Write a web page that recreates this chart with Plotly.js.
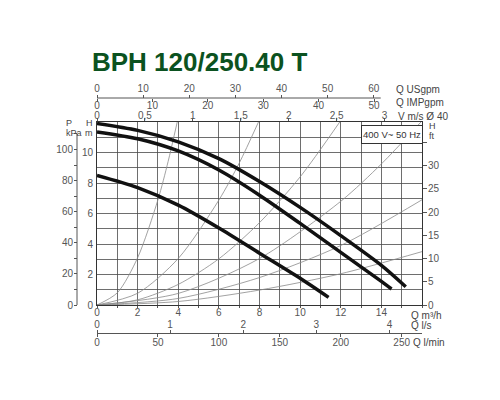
<!DOCTYPE html>
<html>
<head>
<meta charset="utf-8">
<script src="https://cdn.plot.ly/plotly-3.0.1.min.js"></script>
<style>body{margin:0;background:#fff}#chart{width:500px;height:400px}</style>
</head>
<body>
<div id="chart"></div>
<script>
// pump curves (Q m3/h, H m)
let q_speed3 = [0, 2, 4, 6, 8, 10, 12, 14, 15.2]
let h_speed3 = [11.9, 11.45, 10.7, 9.6, 8.1, 6.4, 4.55, 2.6, 1.2]
let q_speed2 = [0, 2, 4, 6, 8, 10, 12, 14, 14.5]
let h_speed2 = [11.35, 10.9, 10.1, 8.85, 7.2, 5.35, 3.45, 1.55, 1.05]
let q_speed1 = [0, 2, 4, 6, 8, 10, 11.4]
let h_speed1 = [8.5, 7.7, 6.55, 5.05, 3.4, 1.75, 0.5]

// thin system curves
let sys_a_q = [0, 1, 2, 3, 3.5, 3.95]
let sys_a_h = [0, 0.8, 3.1, 6.9, 9.4, 12]
let sys_b_q = [0, 2, 4, 6, 7, 7.95]
let sys_b_h = [0, 0.77, 3.05, 6.88, 9.3, 12]
let sys_c_q = [0, 2, 4, 6, 8, 10, 11.95]
let sys_c_h = [0, 0.34, 1.35, 3.03, 5.4, 8.4, 12]
let sys_d_q = [0, 4, 8, 12, 14, 15.95]
let sys_d_h = [0, 0.76, 3.05, 6.8, 9.25, 12]
let sys_e_q = [0, 4, 8, 12, 16]
let sys_e_h = [0, 0.43, 1.8, 3.9, 6.9]
let sys_f_q = [0, 4, 8, 12, 16]
let sys_f_h = [0, 0.23, 0.98, 2.05, 3.5]

// tick labels
let q_m3h_ticks = [0, 2, 4, 6, 8, 10, 12, 14]
let h_m_ticks = [0, 2, 4, 6, 8, 10]
let p_kpa_ticks = [0, 20, 40, 60, 80, 100]
let h_ft_ticks = [0, 5, 10, 15, 20, 25, 30]
let usgpm_ticks = [0, 10, 20, 30, 40, 50, 60]
let impgpm_ticks = [0, 10, 20, 30, 40, 50]
let v_ticks = [0, 0.5, 1, 1.5, 2, 2.5, 3]
let v_labels = ['0', '0,5', '1', '1,5', '2', '2,5', '3']
let ls_ticks = [0, 1, 2, 3, 4]
let lmin_ticks = [0, 50, 100, 150, 200, 250]

// unit factors against m3/h and m
let Q_MAX = 16, H_MAX = 12
let USGPM = 0.227125, IMPGPM = 0.272766, LS = 3.6, LMIN = 0.06, VMS = 4.72
let KPA = 9.80665, FT = 0.3048

// page layout helpers (paper spans x 60..440, y 92..350)
let px = (x) => (x - 60) / 380
let py = (y) => (350 - y) / 258

let fnt = 'Liberation Sans, Arial, sans-serif'
let tickFont = {family: fnt, size: 10, color: '#555'}

range = (a, b, s) => {
    var out = []
    for (let v = a; v <= b + 1e-9; v = v + s) out.push(v)
    return out
}

sysTrace = (q, h) => ({
    x: q, y: h, type: 'scatter', mode: 'lines',
    line: {color: '#8a8a8a', width: 0.8, shape: 'spline', smoothing: 0.8},
    hoverinfo: 'skip'
})
pumpTrace = (q, h) => ({
    x: q, y: h, type: 'scatter', mode: 'lines',
    line: {color: '#111', width: 3.5, shape: 'spline', smoothing: 0.8},
    hoverinfo: 'skip'
})
// empty trace so that an extra scale axis gets drawn
axisHolder = (xa, ya) => ({
    x: [null], y: [null], xaxis: xa, yaxis: ya, type: 'scatter', mode: 'lines',
    hoverinfo: 'skip'
})

var data = [
    sysTrace(sys_a_q, sys_a_h),
    sysTrace(sys_b_q, sys_b_h),
    sysTrace(sys_c_q, sys_c_h),
    sysTrace(sys_d_q, sys_d_h),
    sysTrace(sys_e_q, sys_e_h),
    sysTrace(sys_f_q, sys_f_h),
    pumpTrace(q_speed1, h_speed1),
    pumpTrace(q_speed2, h_speed2),
    pumpTrace(q_speed3, h_speed3),
    axisHolder('x2', 'y'),
    axisHolder('x3', 'y'),
    axisHolder('x4', 'y'),
    axisHolder('x5', 'y'),
    axisHolder('x6', 'y'),
    axisHolder('x', 'y2'),
    axisHolder('x', 'y3')
]

// every grid line at 1 unit, label only the named ticks
var gridQ = range(0, Q_MAX, 1)
var gridH = range(0, H_MAX, 1)

var freeX = (extra) => Object.assign({
    overlaying: 'x', anchor: 'free', showgrid: false, zeroline: false,
    ticks: 'outside', ticklen: 3, tickcolor: '#555', linecolor: '#555',
    tickfont: tickFont
}, extra)

var layout = {
    width: 500, height: 400,
    margin: {l: 60, r: 60, t: 92, b: 50},
    paper_bgcolor: '#fff', plot_bgcolor: '#fff',
    showlegend: false,
    font: {family: fnt, color: '#444'},
    title: {
        text: 'BPH 120/250.40 T',
        font: {family: fnt, size: 26, color: '#0b5220', weight: 'bold'},
        xref: 'container', yref: 'container',
        x: 92 / 500, xanchor: 'left', y: 1 - 62 / 400, yanchor: 'middle'
    },
    xaxis: {
        domain: [px(97), px(422)], range: [0, Q_MAX],
        tickmode: 'array', tickvals: gridQ,
        ticktext: gridQ.map(v => q_m3h_ticks.includes(v) ? String(v) : ''),
        showgrid: true, gridcolor: '#4a4a4a', gridwidth: 0.8,
        zeroline: false, showline: true, mirror: true, linecolor: '#333', linewidth: 1,
        ticks: 'outside', ticklen: 2, tickcolor: '#555', tickfont: tickFont,
        ticklabelstandoff: -4
    },
    yaxis: {
        domain: [py(305), py(122)], range: [0, H_MAX],
        tickmode: 'array', tickvals: gridH,
        ticktext: gridH.map(v => h_m_ticks.includes(v) ? String(v) : ''),
        showgrid: true, gridcolor: '#4a4a4a', gridwidth: 0.8,
        zeroline: false, showline: true, mirror: true, linecolor: '#333', linewidth: 1,
        ticks: '', ticklabelstandoff: 1, tickfont: tickFont
    },
    // pressure scale on the far left (its line is a shape so it can stop at 110)
    yaxis2: {
        overlaying: 'y', anchor: 'free', position: px(77), side: 'left',
        range: [0, H_MAX * KPA],
        tickmode: 'array', tickvals: range(0, 110, 10),
        ticktext: range(0, 110, 10).map(v => p_kpa_ticks.includes(v) ? String(v) : ''),
        showgrid: false, zeroline: false, showline: false,
        ticks: 'outside', ticklen: 3, tickcolor: '#555', tickfont: tickFont,
        ticklabelstandoff: -1
    },
    // feet on the right
    yaxis3: {
        overlaying: 'y', anchor: 'x', side: 'right',
        range: [0, H_MAX / FT],
        tickmode: 'array', tickvals: range(0, 35, 5),
        ticktext: range(0, 35, 5).map(v => h_ft_ticks.includes(v) ? String(v) : ''),
        showgrid: false, zeroline: false, showline: false,
        ticks: 'outside', ticklen: 4, tickcolor: '#555', tickfont: tickFont,
        ticklabelstandoff: -1
    },
    xaxis2: freeX({
        position: py(98), side: 'top', range: [0, Q_MAX / USGPM],
        tickmode: 'array', tickvals: usgpm_ticks, showline: false,
        ticklabelstandoff: -1
    }),
    xaxis3: freeX({
        position: py(98), side: 'bottom', range: [0, Q_MAX / IMPGPM],
        tickmode: 'array', tickvals: impgpm_ticks, showline: false,
        ticklabelstandoff: -5
    }),
    xaxis4: {
        overlaying: 'x', anchor: 'y', side: 'top', range: [0, Q_MAX / VMS],
        tickmode: 'array', tickvals: v_ticks, ticktext: v_labels,
        showgrid: false, zeroline: false, showline: false,
        ticks: 'outside', ticklen: 3, tickcolor: '#555', tickfont: tickFont,
        ticklabelstandoff: -5
    },
    xaxis5: freeX({
        position: py(333), side: 'top', range: [0, Q_MAX / LS],
        tickmode: 'array', tickvals: ls_ticks, showline: true,
        ticklabelstandoff: -2
    }),
    xaxis6: freeX({
        position: py(333), side: 'bottom', range: [0, Q_MAX / LMIN],
        tickmode: 'array', tickvals: lmin_ticks, showline: false,
        ticklabelstandoff: -3
    }),
    shapes: [
        // gpm scale line, ends just past the 60 USgpm tick
        {type: 'line', xref: 'x', yref: 'paper', x0: 0, x1: 61.5 * USGPM,
         y0: py(98), y1: py(98), line: {color: '#555', width: 1}},
        // kPa scale line, 0..110 kPa
        {type: 'line', xref: 'paper', yref: 'y', x0: px(77), x1: px(77),
         y0: 0, y1: 110 / KPA, line: {color: '#555', width: 1}}
    ],
    annotations: []
}

var labels = [
    ['Q USgpm', 395, 89, 'left', 10],
    ['Q IMPgpm', 395, 103, 'left', 10],
    ['V m/s Ø 40', 397, 116, 'left', 10],
    ['Q m³/h', 410, 315, 'left', 10],
    ['Q l/s', 410, 325.5, 'left', 10],
    ['Q l/min', 411.5, 342, 'left', 10],
    ['P', 69, 123, 'center', 9],
    ['kPa', 74, 133, 'center', 9],
    ['H', 89, 122.5, 'center', 9],
    ['m', 89, 132.5, 'center', 9],
    ['H', 428, 125.5, 'left', 9],
    ['ft', 428, 136, 'left', 9]
]
labels.forEach(l => {
    layout.annotations.push({
        text: l[0], xref: 'paper', yref: 'paper', x: px(l[1]), y: py(l[2]),
        xanchor: l[3], yanchor: 'middle', showarrow: false, borderpad: 0,
        font: {family: fnt, size: l[4], color: '#444'}
    })
})

// supply box
layout.annotations.push({
    text: '400 V~ 50 Hz', xref: 'paper', yref: 'paper', x: px(391.5), y: py(134),
    xanchor: 'center', yanchor: 'middle', showarrow: false,
    width: 60, height: 17,
    bgcolor: '#fff', bordercolor: '#333', borderwidth: 1, borderpad: 0,
    font: {family: fnt, size: 9.5, color: '#333'}
})

Plotly.newPlot('chart', data, layout, {staticPlot: true})
</script>
</body>
</html>
